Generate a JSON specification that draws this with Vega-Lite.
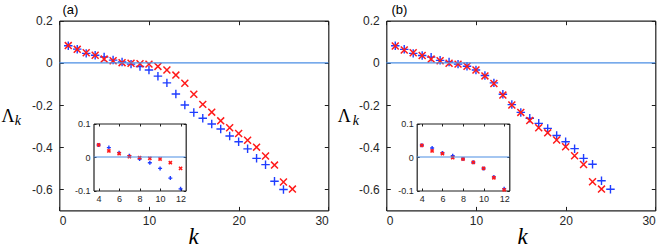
{
  "$schema": "https://vega.github.io/schema/vega-lite/v6.json",
  "width": 664,
  "height": 248,
  "autosize": {"type": "none"},
  "padding": 0,
  "background": "white",
  "config": {
    "view": {"stroke": null},
    "axis": {
      "grid": false,
      "domainColor": "#1f1f1f",
      "domainWidth": 1.2,
      "tickColor": "#1f1f1f",
      "tickWidth": 1,
      "labelColor": "#262626",
      "labelFont": "Liberation Sans",
      "labelFontSize": 12,
      "titleColor": "#000000",
      "titleFontWeight": "normal"
    }
  },
  "datasets": {
    "pts": [
      {"p":"a","s":"blue","k":1,"v":0.081},{"p":"a","s":"blue","k":2,"v":0.065},{"p":"a","s":"blue","k":3,"v":0.045},{"p":"a","s":"blue","k":4,"v":0.036},{"p":"a","s":"blue","k":5,"v":0.028},{"p":"a","s":"blue","k":6,"v":0.013},{"p":"a","s":"blue","k":7,"v":0.004},{"p":"a","s":"blue","k":8,"v":-0.006},{"p":"a","s":"blue","k":9,"v":-0.017},{"p":"a","s":"blue","k":10,"v":-0.034},{"p":"a","s":"blue","k":11,"v":-0.063},{"p":"a","s":"blue","k":12,"v":-0.095},{"p":"a","s":"blue","k":13,"v":-0.148},{"p":"a","s":"blue","k":14,"v":-0.2},{"p":"a","s":"blue","k":15,"v":-0.235},{"p":"a","s":"blue","k":16,"v":-0.263},{"p":"a","s":"blue","k":17,"v":-0.29},{"p":"a","s":"blue","k":18,"v":-0.314},{"p":"a","s":"blue","k":19,"v":-0.347},{"p":"a","s":"blue","k":20,"v":-0.374},{"p":"a","s":"blue","k":21,"v":-0.408},{"p":"a","s":"blue","k":22,"v":-0.453},{"p":"a","s":"blue","k":23,"v":-0.483},{"p":"a","s":"blue","k":24,"v":-0.562},{"p":"a","s":"blue","k":25,"v":-0.601},
      {"p":"a","s":"red","k":1,"v":0.082},{"p":"a","s":"red","k":2,"v":0.064},{"p":"a","s":"red","k":3,"v":0.048},{"p":"a","s":"red","k":4,"v":0.036},{"p":"a","s":"red","k":5,"v":0.018},{"p":"a","s":"red","k":6,"v":0.01},{"p":"a","s":"red","k":7,"v":0.001},{"p":"a","s":"red","k":8,"v":-0.002},{"p":"a","s":"red","k":9,"v":-0.004},{"p":"a","s":"red","k":10,"v":-0.006},{"p":"a","s":"red","k":11,"v":-0.017},{"p":"a","s":"red","k":12,"v":-0.034},{"p":"a","s":"red","k":13,"v":-0.058},{"p":"a","s":"red","k":14,"v":-0.097},{"p":"a","s":"red","k":15,"v":-0.149},{"p":"a","s":"red","k":16,"v":-0.197},{"p":"a","s":"red","k":17,"v":-0.234},{"p":"a","s":"red","k":18,"v":-0.275},{"p":"a","s":"red","k":19,"v":-0.308},{"p":"a","s":"red","k":20,"v":-0.335},{"p":"a","s":"red","k":21,"v":-0.367},{"p":"a","s":"red","k":22,"v":-0.4},{"p":"a","s":"red","k":23,"v":-0.442},{"p":"a","s":"red","k":24,"v":-0.485},{"p":"a","s":"red","k":25,"v":-0.565},{"p":"a","s":"red","k":26,"v":-0.599},
      {"p":"b","s":"blue","k":1,"v":0.0815},{"p":"b","s":"blue","k":2,"v":0.064},{"p":"b","s":"blue","k":3,"v":0.045},{"p":"b","s":"blue","k":4,"v":0.035},{"p":"b","s":"blue","k":5,"v":0.027},{"p":"b","s":"blue","k":6,"v":0.012},{"p":"b","s":"blue","k":7,"v":0.004},{"p":"b","s":"blue","k":8,"v":-0.006},{"p":"b","s":"blue","k":9,"v":-0.016},{"p":"b","s":"blue","k":10,"v":-0.034},{"p":"b","s":"blue","k":11,"v":-0.06},{"p":"b","s":"blue","k":12,"v":-0.095},{"p":"b","s":"blue","k":13,"v":-0.149},{"p":"b","s":"blue","k":14,"v":-0.198},{"p":"b","s":"blue","k":15,"v":-0.235},{"p":"b","s":"blue","k":16,"v":-0.263},{"p":"b","s":"blue","k":17,"v":-0.287},{"p":"b","s":"blue","k":18,"v":-0.311},{"p":"b","s":"blue","k":19,"v":-0.345},{"p":"b","s":"blue","k":20,"v":-0.374},{"p":"b","s":"blue","k":21,"v":-0.407},{"p":"b","s":"blue","k":22,"v":-0.453},{"p":"b","s":"blue","k":23,"v":-0.481},{"p":"b","s":"blue","k":24,"v":-0.559},{"p":"b","s":"blue","k":25,"v":-0.6},
      {"p":"b","s":"red","k":1,"v":0.08},{"p":"b","s":"red","k":2,"v":0.061},{"p":"b","s":"red","k":3,"v":0.048},{"p":"b","s":"red","k":4,"v":0.035},{"p":"b","s":"red","k":5,"v":0.018},{"p":"b","s":"red","k":6,"v":0.01},{"p":"b","s":"red","k":7,"v":-0.002},{"p":"b","s":"red","k":8,"v":-0.006},{"p":"b","s":"red","k":9,"v":-0.016},{"p":"b","s":"red","k":10,"v":-0.034},{"p":"b","s":"red","k":11,"v":-0.062},{"p":"b","s":"red","k":12,"v":-0.098},{"p":"b","s":"red","k":13,"v":-0.153},{"p":"b","s":"red","k":14,"v":-0.2},{"p":"b","s":"red","k":15,"v":-0.235},{"p":"b","s":"red","k":16,"v":-0.274},{"p":"b","s":"red","k":17,"v":-0.308},{"p":"b","s":"red","k":18,"v":-0.332},{"p":"b","s":"red","k":19,"v":-0.366},{"p":"b","s":"red","k":20,"v":-0.398},{"p":"b","s":"red","k":21,"v":-0.441},{"p":"b","s":"red","k":22,"v":-0.482},{"p":"b","s":"red","k":23,"v":-0.564},{"p":"b","s":"red","k":24,"v":-0.599}
    ],
    "zero": [{"y": 0}]
  },
  "data": {"name": "pts"},
  "layer": [
    {
      "transform": [{"filter": "datum.p == 'a' && datum.s == 'blue'"}],
      "mark": {"type": "point", "shape": "M-1,0L1,0M0,-1L0,1", "filled": false, "size": 72, "strokeWidth": 1.4, "color": "#1f3dff", "opacity": 1},
      "encoding": {
        "x": {"field": "k", "type": "quantitative",
          "scale": {"domain": [0, 30], "range": [59.3, 328.3], "nice": false, "zero": false},
          "axis": {"orient": "bottom", "offset": -37.6, "values": [0, 10, 20, 30], "tickSize": -4, "labelPadding": 9, "title": "k", "titleX": 193, "titleY": 33, "titleAlign": "center", "titleBaseline": "alphabetic", "titleFont": "Liberation Serif", "titleFontStyle": "italic", "titleFontSize": 23}},
        "y": {"field": "v", "type": "quantitative",
          "scale": {"domain": [-0.7, 0.2], "range": [210.4, 20.7], "nice": false, "zero": false},
          "axis": {"orient": "left", "offset": -59.3, "values": [-0.6, -0.4, -0.2, 0, 0.2], "labelExpr": "toString(datum.value)", "tickSize": -4, "labelPadding": 11, "title": "Λ", "titleAngle": 0, "titleX": -51.8, "titleY": 121, "titleAlign": "center", "titleBaseline": "alphabetic", "titleFont": "Liberation Serif", "titleFontSize": 18}}
      }
    },
    {
      "transform": [{"filter": "datum.p == 'a' && datum.s == 'red'"}],
      "mark": {"type": "point", "shape": "M-1,-1L1,1M-1,1L1,-1", "filled": false, "size": 48, "strokeWidth": 1.5, "color": "#ff1a1a", "opacity": 1},
      "encoding": {
        "x": {"field": "k", "type": "quantitative",
          "scale": {"domain": [0, 30], "range": [59.3, 328.3], "nice": false, "zero": false},
          "axis": {"orient": "top", "offset": -20.7, "values": [0, 10, 20, 30], "tickSize": -4, "labels": false, "title": "(a)", "titleX": 62, "titleY": -7.5, "titleAlign": "left", "titleBaseline": "alphabetic", "titleFont": "Liberation Sans", "titleFontSize": 13}},
        "y": {"field": "v", "type": "quantitative",
          "scale": {"domain": [-0.7, 0.2], "range": [210.4, 20.7], "nice": false, "zero": false},
          "axis": {"orient": "right", "offset": -335.7, "values": [-0.6, -0.4, -0.2, 0, 0.2], "tickSize": -4, "labels": false, "title": "k", "titleAngle": 0, "titleX": -311, "titleY": 124, "titleAlign": "center", "titleBaseline": "alphabetic", "titleFont": "Liberation Serif", "titleFontStyle": "italic", "titleFontSize": 14}}
      }
    },
    {
      "data": {"name": "zero"},
      "mark": {"type": "rule", "color": "#4a8ee4", "strokeWidth": 1.2},
      "encoding": {
        "x": {"datum": 0, "type": "quantitative", "scale": {"domain": [0, 30], "range": [59.3, 328.3], "nice": false, "zero": false}, "axis": null},
        "x2": {"datum": 30},
        "y": {"field": "y", "type": "quantitative", "scale": {"domain": [-0.7, 0.2], "range": [210.4, 20.7], "nice": false, "zero": false}, "axis": null}
      }
    },
    {
      "transform": [{"filter": "datum.p == 'a' && datum.s == 'blue' && datum.k >= 4 && datum.k <= 12"}],
      "mark": {"type": "point", "shape": "M-1,0L1,0M0,-1L0,1", "filled": false, "size": 16, "strokeWidth": 1.4, "color": "#1f3dff", "opacity": 1},
      "encoding": {
        "x": {"field": "k", "type": "quantitative",
          "scale": {"domain": [3.5, 12.5], "range": [93.5, 185.7], "nice": false, "zero": false},
          "axis": {"orient": "bottom", "offset": -57.5, "values": [4, 6, 8, 10, 12], "tickSize": -2.5, "labelPadding": 6, "labelFontSize": 9, "title": null}},
        "y": {"field": "v", "type": "quantitative",
          "scale": {"domain": [-0.1, 0.1], "range": [190.5, 123.5], "nice": false, "zero": false},
          "axis": {"orient": "left", "offset": -93.5, "values": [-0.1, 0, 0.1], "labelExpr": "toString(datum.value)", "tickSize": -2.5, "labelPadding": 6, "labelFontSize": 9, "title": null}}
      }
    },
    {
      "transform": [{"filter": "datum.p == 'a' && datum.s == 'red' && datum.k >= 4 && datum.k <= 12"}],
      "mark": {"type": "point", "shape": "M-1,-1L1,1M-1,1L1,-1", "filled": false, "size": 10, "strokeWidth": 1.6, "color": "#ff1a1a", "opacity": 1},
      "encoding": {
        "x": {"field": "k", "type": "quantitative",
          "scale": {"domain": [3.5, 12.5], "range": [93.5, 185.7], "nice": false, "zero": false},
          "axis": {"orient": "top", "offset": -123.5, "values": [4, 6, 8, 10, 12], "tickSize": -2.5, "labels": false, "title": null}},
        "y": {"field": "v", "type": "quantitative",
          "scale": {"domain": [-0.1, 0.1], "range": [190.5, 123.5], "nice": false, "zero": false},
          "axis": {"orient": "right", "offset": -478.3, "values": [-0.1, 0, 0.1], "tickSize": -2.5, "labels": false, "title": null}}
      }
    },
    {
      "data": {"name": "zero"},
      "mark": {"type": "rule", "color": "#4a8ee4", "strokeWidth": 1.2},
      "encoding": {
        "x": {"datum": 3.5, "type": "quantitative", "scale": {"domain": [3.5, 12.5], "range": [93.5, 185.7], "nice": false, "zero": false}, "axis": null},
        "x2": {"datum": 12.5},
        "y": {"field": "y", "type": "quantitative", "scale": {"domain": [-0.1, 0.1], "range": [190.5, 123.5], "nice": false, "zero": false}, "axis": null}
      }
    },
    {
      "transform": [{"filter": "datum.p == 'b' && datum.s == 'blue'"}],
      "mark": {"type": "point", "shape": "M-1,0L1,0M0,-1L0,1", "filled": false, "size": 72, "strokeWidth": 1.4, "color": "#1f3dff", "opacity": 1},
      "encoding": {
        "x": {"field": "k", "type": "quantitative",
          "scale": {"domain": [0, 30], "range": [386.3, 655.3], "nice": false, "zero": false},
          "axis": {"orient": "bottom", "offset": -37.6, "values": [0, 10, 20, 30], "tickSize": -4, "labelPadding": 9, "title": "k", "titleX": 522, "titleY": 33, "titleAlign": "center", "titleBaseline": "alphabetic", "titleFont": "Liberation Serif", "titleFontStyle": "italic", "titleFontSize": 23}},
        "y": {"field": "v", "type": "quantitative",
          "scale": {"domain": [-0.7, 0.2], "range": [210.4, 20.7], "nice": false, "zero": false},
          "axis": {"orient": "left", "offset": -386.3, "values": [-0.6, -0.4, -0.2, 0, 0.2], "labelExpr": "toString(datum.value)", "tickSize": -4, "labelPadding": 11, "title": "Λ", "titleAngle": 0, "titleX": -42.6, "titleY": 121, "titleAlign": "center", "titleBaseline": "alphabetic", "titleFont": "Liberation Serif", "titleFontSize": 18}}
      }
    },
    {
      "transform": [{"filter": "datum.p == 'b' && datum.s == 'red'"}],
      "mark": {"type": "point", "shape": "M-1,-1L1,1M-1,1L1,-1", "filled": false, "size": 48, "strokeWidth": 1.5, "color": "#ff1a1a", "opacity": 1},
      "encoding": {
        "x": {"field": "k", "type": "quantitative",
          "scale": {"domain": [0, 30], "range": [386.3, 655.3], "nice": false, "zero": false},
          "axis": {"orient": "top", "offset": -20.7, "values": [0, 10, 20, 30], "tickSize": -4, "labels": false, "title": "(b)", "titleX": 391, "titleY": -7.5, "titleAlign": "left", "titleBaseline": "alphabetic", "titleFont": "Liberation Sans", "titleFontSize": 13}},
        "y": {"field": "v", "type": "quantitative",
          "scale": {"domain": [-0.7, 0.2], "range": [210.4, 20.7], "nice": false, "zero": false},
          "axis": {"orient": "right", "offset": -8.7, "values": [-0.6, -0.4, -0.2, 0, 0.2], "tickSize": -4, "labels": false, "title": "k", "titleAngle": 0, "titleX": -300, "titleY": 124, "titleAlign": "center", "titleBaseline": "alphabetic", "titleFont": "Liberation Serif", "titleFontStyle": "italic", "titleFontSize": 14}}
      }
    },
    {
      "data": {"name": "zero"},
      "mark": {"type": "rule", "color": "#4a8ee4", "strokeWidth": 1.2},
      "encoding": {
        "x": {"datum": 0, "type": "quantitative", "scale": {"domain": [0, 30], "range": [386.3, 655.3], "nice": false, "zero": false}, "axis": null},
        "x2": {"datum": 30},
        "y": {"field": "y", "type": "quantitative", "scale": {"domain": [-0.7, 0.2], "range": [210.4, 20.7], "nice": false, "zero": false}, "axis": null}
      }
    },
    {
      "transform": [{"filter": "datum.p == 'b' && datum.s == 'blue' && datum.k >= 4 && datum.k <= 12"}],
      "mark": {"type": "point", "shape": "M-1,0L1,0M0,-1L0,1", "filled": false, "size": 16, "strokeWidth": 1.4, "color": "#1f3dff", "opacity": 1},
      "encoding": {
        "x": {"field": "k", "type": "quantitative",
          "scale": {"domain": [3.5, 12.5], "range": [416.7, 509.3], "nice": false, "zero": false},
          "axis": {"orient": "bottom", "offset": -57.5, "values": [4, 6, 8, 10, 12], "tickSize": -2.5, "labelPadding": 6, "labelFontSize": 9, "title": null}},
        "y": {"field": "v", "type": "quantitative",
          "scale": {"domain": [-0.1, 0.1], "range": [190.5, 123.5], "nice": false, "zero": false},
          "axis": {"orient": "left", "offset": -416.7, "values": [-0.1, 0, 0.1], "labelExpr": "toString(datum.value)", "tickSize": -2.5, "labelPadding": 6, "labelFontSize": 9, "title": null}}
      }
    },
    {
      "transform": [{"filter": "datum.p == 'b' && datum.s == 'red' && datum.k >= 4 && datum.k <= 12"}],
      "mark": {"type": "point", "shape": "M-1,-1L1,1M-1,1L1,-1", "filled": false, "size": 10, "strokeWidth": 1.6, "color": "#ff1a1a", "opacity": 1},
      "encoding": {
        "x": {"field": "k", "type": "quantitative",
          "scale": {"domain": [3.5, 12.5], "range": [416.7, 509.3], "nice": false, "zero": false},
          "axis": {"orient": "top", "offset": -123.5, "values": [4, 6, 8, 10, 12], "tickSize": -2.5, "labels": false, "title": null}},
        "y": {"field": "v", "type": "quantitative",
          "scale": {"domain": [-0.1, 0.1], "range": [190.5, 123.5], "nice": false, "zero": false},
          "axis": {"orient": "right", "offset": -154.7, "values": [-0.1, 0, 0.1], "tickSize": -2.5, "labels": false, "title": null}}
      }
    },
    {
      "data": {"name": "zero"},
      "mark": {"type": "rule", "color": "#4a8ee4", "strokeWidth": 1.2},
      "encoding": {
        "x": {"datum": 3.5, "type": "quantitative", "scale": {"domain": [3.5, 12.5], "range": [416.7, 509.3], "nice": false, "zero": false}, "axis": null},
        "x2": {"datum": 12.5},
        "y": {"field": "y", "type": "quantitative", "scale": {"domain": [-0.1, 0.1], "range": [190.5, 123.5], "nice": false, "zero": false}, "axis": null}
      }
    }
  ],
  "resolve": {
    "scale": {"x": "independent", "y": "independent"},
    "axis": {"x": "independent", "y": "independent"}
  }
}
